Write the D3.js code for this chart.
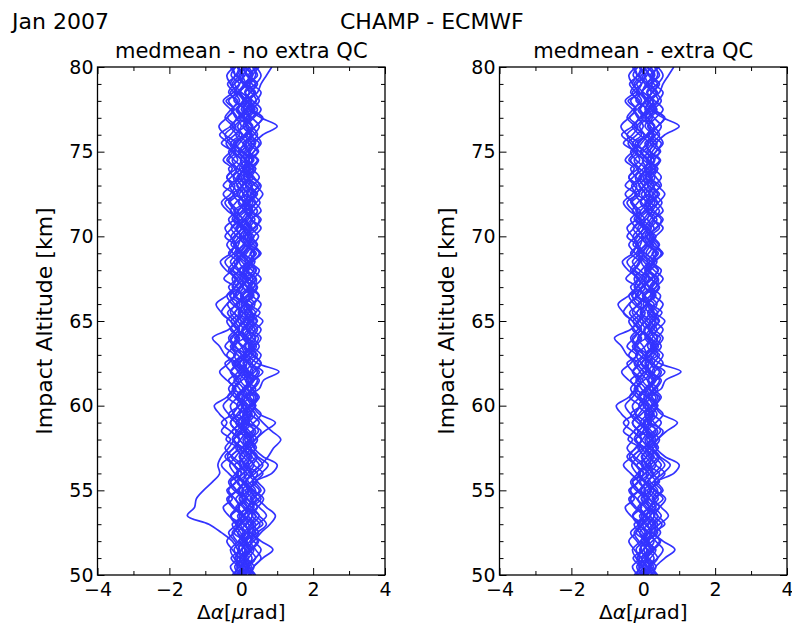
<!DOCTYPE html>
<html><head><meta charset="utf-8">
<script src="https://cdn.jsdelivr.net/npm/d3@7"></script>
<style>
html,body{margin:0;padding:0;background:#fff;}
svg{display:block;font-family:"DejaVu Sans",sans-serif;}
</style></head>
<body>
<script>
// Impact altitude levels [km] (50 .. 80 km, 0.5 km step)
const altitudes = [50,50.5,51,51.5,52,52.5,53,53.5,54,54.5,55,55.5,56,56.5,57,57.5,58,58.5,59,59.5,
 60,60.5,61,61.5,62,62.5,63,63.5,64,64.5,65,65.5,66,66.5,67,67.5,68,68.5,69,69.5,
 70,70.5,71,71.5,72,72.5,73,73.5,74,74.5,75,75.5,76,76.5,77,77.5,78,78.5,79,79.5,80];

// Bending angle differences [µrad] per profile, from 50 km upward
const prof01 = [0.05,0.12,-0.05,0.20,0.08,-0.10,0.15,0.30,0.10,-0.05, 0.18,0.02,-0.15,0.10,0.25,0.05,-0.20,0.00,0.22,0.10, -0.12,0.05,0.28,0.12,-0.08,0.15,0.02,-0.25,0.08,0.20, 0.00,-0.18,0.10,0.25,0.05,-0.10,0.12,0.30,0.05,-0.15, 0.08,0.22,-0.05,-0.20,0.10,0.18,0.00,-0.12,0.15,0.32, 0.05,-0.22,0.10,0.20,-0.05,0.12,0.28,0.00,-0.18,0.10, 0.15];
const prof02 = [0.25,0.35,0.60,0.88,0.55,0.30,0.40,0.20,0.45,0.62, 0.35,0.15,0.30,0.50,0.28,0.10,0.38,0.55,0.20,0.05, 0.30,0.45,0.18,0.35,0.60,0.25,0.08,0.32,0.48,0.15, 0.28,0.52,0.20,0.05,0.35,0.42,0.18,0.30,0.55,0.25, 0.10,0.38,0.50,0.22,0.05,0.30,0.45,0.15,0.35,0.20, 0.48,0.30,0.10,0.40,0.58,0.25,0.12,0.38,0.22,0.45, 0.30];
const prof03 = [-0.20,-0.10,-0.28,-0.05,-0.18,-0.35,-0.12,0.00,-0.25,-0.40, -0.15,-0.30,-0.08,-0.22,-0.45,-0.20,-0.05,-0.30,-0.55,-0.25, -0.10,-0.38,-0.20,-0.02,-0.28,-0.45,-0.15,-0.30,-0.08,-0.25, -0.40,-0.18,-0.05,-0.32,-0.20,-0.48,-0.25,-0.10,-0.35,-0.15, -0.30,-0.45,-0.20,-0.08,-0.35,-0.22,-0.50,-0.28,-0.12,-0.40, -0.25,-0.55,-0.30,-0.15,-0.38,-0.20,-0.42,-0.10,-0.30,-0.18, -0.25];
const prof04 = [0.10,0.22,0.05,0.30,0.15,0.40,0.20,0.08,0.35,0.18, 0.02,0.28,0.45,0.15,0.30,0.05,0.22,0.40,0.12,0.25, 0.38,0.15,0.50,0.62,1.05,0.45,0.20,0.35,0.10,0.28, 0.42,0.18,0.30,0.05,0.25,0.40,0.15,0.32,0.08,0.22, 0.35,0.12,0.28,0.45,0.20,0.05,0.30,0.18,0.40,0.10, 0.25,0.38,0.15,0.30,0.05,0.20,0.42,0.28,0.10,0.32, 0.20];
const prof05 = [-0.05,0.08,-0.15,0.00,0.12,-0.10,-0.25,0.05,-0.08,0.15, -0.12,-0.30,0.02,-0.18,0.10,-0.05,-0.22,0.08,-0.15,-0.35, -0.05,0.10,-0.20,-0.08,-0.30,-0.15,-0.45,-0.60,-0.80,-0.35, -0.10,0.05,-0.18,-0.30,-0.05,0.08,-0.22,-0.12,0.02,-0.28, -0.15,0.00,-0.25,-0.08,0.10,-0.18,-0.32,-0.05,0.05,-0.20, -0.35,-0.12,0.02,-0.25,-0.10,0.08,-0.15,-0.30,-0.05,0.05, -0.10];
const prof06 = [0.15,0.00,0.20,0.35,0.10,0.25,0.05,-0.10,0.18,0.30, 0.12,0.45,0.25,0.08,-0.05,0.20,0.35,0.15,0.00,0.22, 0.40,0.18,0.05,0.28,0.12,-0.05,0.20,0.35,0.18,0.02, 0.25,0.40,0.15,-0.02,0.20,0.32,0.10,-0.05,0.15,0.28, 0.05,0.20,0.38,0.12,-0.08,0.15,0.30,0.08,0.22,0.45, 0.18,0.35,0.60,1.00,0.55,0.20,0.05,0.25,0.40,0.15, 0.05];
const prof07 = [0.30,0.15,0.40,0.55,0.35,0.20,0.45,0.70,0.50,0.30, 0.55,0.40,0.85,1.00,0.60,0.35,0.25,0.48,0.30,0.15, 0.40,0.25,0.10,0.35,0.50,0.30,0.45,0.20,0.38,0.55, 0.30,0.12,0.35,0.48,0.25,0.40,0.15,0.30,0.52,0.35, 0.20,0.45,0.30,0.55,0.38,0.15,0.32,0.50,0.28,0.10, 0.35,0.50,0.25,0.40,0.60,0.30,0.18,0.45,0.55,0.70, 0.85];
const prof08 = [-0.10,0.05,-0.05,-0.20,0.00,0.10,-0.15,-0.30,-0.10,0.05, -0.20,-0.35,-0.15,0.00,-0.25,-0.45,-0.30,-0.55,-0.40,-0.60, -0.75,-0.40,-0.20,-0.35,-0.10,-0.25,0.00,-0.15,-0.30,-0.05, -0.20,-0.38,-0.10,0.05,-0.25,-0.12,-0.35,-0.20,0.00,-0.15, -0.28,-0.08,0.05,-0.18,-0.32,-0.10,-0.25,-0.40,-0.15,0.00, -0.20,-0.35,-0.60,-0.30,-0.12,-0.25,-0.05,-0.20,-0.38,-0.15, -0.05];
const prof09 = [0.00,-0.12,0.10,0.25,-0.05,0.15,0.35,0.05,-0.15,0.12, 0.30,0.08,-0.10,0.20,0.40,0.15,-0.05,-0.25,0.05,0.28, 0.10,-0.15,0.05,0.30,0.15,-0.05,0.22,0.42,0.20,-0.10, 0.08,0.30,0.12,-0.20,0.00,0.25,0.40,0.10,-0.12,0.05, 0.28,0.10,-0.18,0.02,0.20,0.45,0.15,-0.08,0.10,0.30, 0.05,-0.15,0.18,0.32,0.10,-0.10,0.05,0.25,0.45,0.20, 0.00];
const prof10 = [0.20,0.35,0.15,0.02,0.25,0.48,0.30,0.10,0.28,0.55, 0.30,0.12,0.38,0.60,0.40,0.18,0.05,0.30,0.50,0.25, 0.05,0.22,0.40,0.15,0.30,0.55,0.35,0.12,0.25,0.40, 0.60,0.30,0.10,0.28,0.45,0.20,0.05,0.32,0.50,0.25, 0.12,0.35,0.55,0.30,0.15,0.40,0.25,0.05,0.30,0.48, 0.20,0.05,0.30,0.15,0.35,0.55,0.32,0.10,0.25,0.40, 0.35];
const prof11 = [-0.15,-0.30,-0.10,-0.25,-0.40,-0.20,-0.05,-0.35,-0.50,-0.25, -0.40,-0.15,-0.35,-0.55,-0.30,-0.10,-0.42,-0.25,-0.08,-0.35, -0.50,-0.30,-0.15,-0.40,-0.60,-0.35,-0.20,-0.45,-0.25,-0.10, -0.30,-0.55,-0.40,-0.20,-0.35,-0.15,-0.42,-0.58,-0.30,-0.20, -0.45,-0.25,-0.10,-0.38,-0.55,-0.30,-0.18,-0.40,-0.25,-0.50, -0.30,-0.15,-0.45,-0.62,-0.40,-0.20,-0.35,-0.15,-0.30,-0.40, -0.20];
const prof12 = [0.08,0.20,0.40,0.22,0.05,0.15,0.30,0.50,0.28,0.10, 0.22,0.05,0.18,0.35,0.15,0.42,0.25,0.08,0.20,0.38, 0.20,0.02,0.15,0.35,0.22,0.08,0.40,0.25,0.05,0.18, 0.35,0.15,0.00,0.20,0.42,0.22,0.05,0.18,0.35,0.10, -0.05,0.15,0.30,0.08,0.25,0.40,0.15,0.00,0.22,0.10, -0.08,0.15,0.30,0.12,0.25,0.05,0.20,0.40,0.15,0.25, 0.40];
const prof13 = [-0.25,-0.05,0.10,-0.10,0.05,-0.20,0.00,0.20,0.05,-0.15, 0.05,-0.08,0.15,-0.05,-0.28,0.00,0.18,-0.10,-0.30,-0.05, 0.15,-0.08,-0.25,0.02,0.20,-0.05,-0.20,0.05,0.18,-0.12, -0.28,0.00,0.12,-0.15,-0.05,0.15,-0.10,-0.30,-0.08,0.10, -0.12,-0.28,0.00,0.15,-0.05,-0.22,0.05,0.20,-0.10,-0.25, 0.00,0.15,-0.10,-0.30,-0.05,0.12,-0.20,-0.05,0.10,-0.15, -0.30];
const prof14 = [0.35,0.20,0.05,0.25,0.45,0.30,0.60,0.40,0.20,0.35, 0.50,0.30,0.55,0.75,0.45,0.25,0.40,0.65,0.95,0.50, 0.30,0.15,0.35,0.50,0.25,0.40,0.55,0.30,0.15,0.38, 0.20,0.40,0.55,0.30,0.18,0.35,0.50,0.25,0.42,0.20, 0.35,0.55,0.28,0.15,0.40,0.25,0.50,0.35,0.20,0.30, 0.45,0.20,0.35,0.50,0.30,0.15,0.40,0.55,0.30,0.20, 0.45];
const prof15 = [-0.05,-0.18,0.00,0.10,-0.12,-0.25,-0.05,0.08,-0.20,-0.35, -0.10,0.05,-0.18,-0.32,-0.15,0.00,-0.25,-0.12,0.05,-0.20, -0.30,-0.10,0.05,-0.15,-0.28,-0.05,0.10,-0.20,-0.35,-0.15, 0.00,-0.22,-0.38,-0.12,0.05,-0.18,-0.30,-0.08,-0.22,-0.40, -0.20,0.02,-0.12,-0.28,-0.45,-0.15,0.00,-0.20,-0.35,-0.10, -0.25,-0.42,-0.18,0.00,-0.15,-0.30,-0.50,-0.22,-0.05,-0.28, -0.15];
const prof16 = [0.12,0.28,0.10,-0.08,0.05,0.22,0.10,-0.05,0.15,0.05, -0.10,0.10,0.28,0.12,-0.02,0.15,0.30,0.10,-0.08,0.12, 0.25,0.40,0.18,-0.02,0.10,0.28,0.12,0.00,-0.15,0.05, 0.18,-0.05,0.08,0.30,0.15,-0.02,0.10,0.25,0.38,0.15, 0.00,-0.15,0.08,0.25,0.10,-0.05,0.18,0.32,0.12,-0.02, 0.15,0.28,0.05,-0.10,0.12,0.30,0.15,-0.02,0.08,0.28, 0.12];
const prof17 = [0.00,0.15,0.30,0.12,-0.05,0.08,0.25,0.40,0.18,0.02, 0.20,0.35,0.15,-0.05,0.10,0.28,0.45,0.22,0.05,0.18, 0.00,0.12,0.30,0.45,0.20,0.05,0.18,0.38,0.55,0.30, 0.10,-0.08,0.12,0.28,0.05,0.20,0.42,0.22,0.00,0.15, 0.30,0.08,-0.10,0.12,0.32,0.18,0.02,0.25,0.40,0.15, -0.05,0.10,0.25,0.05,0.20,0.38,0.12,-0.05,0.18,0.30, 0.10];
const prof18 = [-0.15,-0.02,-0.20,-0.30,-0.08,0.05,-0.12,-0.28,-0.05,-0.18, -0.35,-0.15,0.00,-0.20,-0.38,-0.22,-0.05,-0.15,-0.30,-0.12, 0.02,-0.18,-0.35,-0.15,0.00,-0.22,-0.40,-0.20,-0.05,-0.30, -0.15,-0.02,-0.25,-0.40,-0.18,-0.05,-0.28,-0.45,-0.20,-0.08, -0.02,-0.20,-0.35,-0.15,-0.30,-0.50,-0.25,-0.05,-0.18,-0.35, -0.15,-0.30,-0.05,-0.22,-0.45,-0.28,-0.10,-0.35,-0.20,0.00, -0.12];
const prof19 = [0.05,0.20,0.10,0.30,0.48,0.25,0.12,0.32,0.20,0.42, 0.22,0.38,0.60,0.35,0.20,0.05,0.25,0.12,0.35,0.55, 0.35,0.50,0.28,0.12,0.32,0.20,0.05,0.25,0.40,0.22, 0.45,0.25,0.12,0.35,0.18,0.02,0.20,0.38,0.25,0.45, 0.25,0.05,0.20,0.35,0.52,0.30,0.12,0.25,0.05,0.20, 0.35,0.55,0.40,0.20,0.05,0.28,0.50,0.35,0.15,0.05, 0.25];
const prof20 = [0.10,-0.05,-0.18,0.02,0.15,-0.02,-0.15,0.05,0.18,-0.05, 0.08,-0.12,0.05,0.22,0.05,-0.15,-0.02,0.12,-0.05,-0.22, -0.08,0.10,-0.05,-0.20,0.05,0.15,-0.10,-0.25,-0.12,0.05, -0.10,-0.30,-0.15,0.02,-0.12,-0.25,-0.05,0.12,-0.05,-0.20, -0.05,0.10,-0.12,-0.30,-0.15,0.05,-0.10,-0.22,0.00,0.15, -0.10,-0.28,-0.45,-0.20,0.00,-0.15,0.05,-0.12,-0.25,-0.05, 0.08];
const prof21 = [0.25,0.10,-0.05,0.15,0.30,0.15,-0.02,0.18,0.35,0.15, -0.05,0.12,0.25,0.05,0.22,0.38,0.18,0.00,0.15,0.30, 0.12,-0.10,0.08,0.25,0.02,-0.15,0.10,0.28,0.10,-0.08, -0.30,-0.55,-0.70,-0.40,-0.15,0.05,0.20,0.02,-0.15,0.08, 0.18,0.00,-0.20,0.05,0.22,0.08,-0.12,0.10,0.25,0.02, -0.20,-0.05,0.15,0.30,0.12,-0.08,0.10,0.22,0.05,-0.10, 0.05];
const prof22 = [0.40,0.22,0.10,0.28,0.15,0.35,0.52,0.30,0.45,0.25, 0.40,0.20,0.08,0.30,0.45,0.25,0.10,0.35,0.20,0.05, 0.22,0.35,0.15,0.28,0.45,0.20,0.30,0.50,0.32,0.15, 0.05,0.22,0.38,0.20,0.35,0.55,0.30,0.12,0.28,0.42, 0.20,0.30,0.12,0.25,0.42,0.60,0.38,0.20,0.05,0.22, 0.10,0.25,0.45,0.30,0.15,0.35,0.25,0.12,0.40,0.55, 0.40];
// Profiles removed by the extra quality control (only in the left panel)
const rejected01 = [0.05,0.15,0.00,-0.10,-0.25,-0.55,-0.90,-1.50,-1.30,-1.25, -1.05,-0.80,-0.60,-0.65,-0.55,-0.35,-0.20,-0.05,0.10,-0.05, 0.05,-0.15,0.10,0.20,-0.05,-0.20,0.08,0.25,0.05,-0.10, 0.12,0.28,0.05,-0.15,0.00,0.18,-0.05,-0.20,0.10,0.22, 0.02,-0.12,0.15,0.30,0.08,-0.10,0.05,0.20,-0.05,0.10, 0.25,0.05,-0.15,0.10,0.22,0.00,0.15,-0.08,0.12,0.30, 0.05];
const rejected02 = [0.20,0.35,0.55,0.40,0.25,0.45,0.70,0.50,0.30,0.48, 0.65,0.45,0.30,0.55,0.75,0.90,1.10,0.85,0.60,0.40, 0.25,0.45,0.30,0.15,0.38,0.55,0.30,0.10,0.28,0.45, 0.25,0.08,0.30,0.50,0.28,0.12,0.35,0.20,0.05,0.30, 0.48,0.25,0.10,0.32,0.20,0.40,0.55,0.28,0.12,0.35, 0.20,0.40,0.25,0.05,0.30,0.45,0.22,0.38,0.15,0.30, 0.50];
const rejected03 = [-0.10,0.05,0.20,0.10,0.35,0.55,0.80,0.95,0.70,0.45, 0.25,0.10,0.30,0.15,-0.05,0.12,0.28,0.05,-0.15,0.08, 0.20,-0.05,0.12,0.30,0.08,-0.10,0.15,0.05,-0.18,0.10, 0.25,0.05,-0.12,0.15,0.30,0.10,-0.08,0.18,0.02,-0.15, 0.10,0.25,0.05,-0.10,0.20,0.35,0.15,-0.05,0.08,0.22, 0.00,-0.20,0.10,0.28,0.05,-0.12,0.18,0.35,0.10,-0.05, 0.15];

const acceptedProfiles = [prof01,prof02,prof03,prof04,prof05,prof06,prof07,prof08,prof09,prof10,prof11,
  prof12,prof13,prof14,prof15,prof16,prof17,prof18,prof19,prof20,prof21,prof22];
const rejectedProfiles = [rejected01,rejected02,rejected03];

const xTicksMajor = [-4,-2,0,2,4];
const xTicksMinor = [-3,-1,1,3];
const yTicksMajor = [50,55,60,65,70,75,80];
const yTicksMinor = [51,52,53,54,56,57,58,59,61,62,63,64,66,67,68,69,71,72,73,74,76,77,78,79];

const panelTitles = ["medmean - no extra QC","medmean - extra QC"];
const figTitleLeft = "Jan 2007";
const figTitle = "CHAMP - ECMWF";

const W = 792, H = 627;
const svg = d3.select("body").append("svg").attr("width",W).attr("height",H);

svg.append("text").attr("x",12).attr("y",29).attr("font-size",22).text(figTitleLeft);
svg.append("text").attr("x",340).attr("y",29).attr("font-size",22).text(figTitle);

const panels = [
  {x0:97.5, title:panelTitles[0], profiles:acceptedProfiles.concat(rejectedProfiles)},
  {x0:499.5, title:panelTitles[1], profiles:acceptedProfiles}
];
const pw = 287.5, y0 = 67, y1 = 575;
const fmt = d => d < 0 ? "\u2212" + Math.abs(d) : String(d);

panels.forEach(p => {
  const g = svg.append("g").attr("transform",`translate(${p.x0},0)`);
  const x = d3.scaleLinear().domain([-4,4]).range([0,pw]);
  const y = d3.scaleLinear().domain([50,80]).range([y1,y0]);

  const clipId = "clip" + Math.round(p.x0);
  g.append("clipPath").attr("id",clipId).append("rect").attr("x",0).attr("y",y0).attr("width",pw).attr("height",y1-y0);

  const line = d3.line().x(d => x(d[0])).y(d => y(d[1])).curve(d3.curveCatmullRom.alpha(0.5));
  g.append("g").attr("clip-path",`url(#${clipId})`)
    .selectAll("path").data(p.profiles).join("path")
    .attr("d", prof => line(prof.map((v,i) => [v, altitudes[i]])))
    .attr("fill","none").attr("stroke","#3333ff").attr("stroke-width",1.7)
    .attr("stroke-linejoin","round");

  // axes: major (labelled) and minor ticks, pointing inward
  const mk = (axisFn, scale, vals, size, labels, tf, pad) => {
    const a = axisFn(scale).tickValues(vals).tickSizeInner(-size).tickSizeOuter(0).tickPadding(pad);
    if (labels) a.tickFormat(fmt); else a.tickFormat("");
    const ag = g.append("g").attr("transform",tf).call(a);
    ag.select(".domain").remove();
    ag.selectAll("line").attr("stroke","#000").attr("stroke-width",1);
    ag.selectAll("text").attr("font-size",19).attr("fill","#000").attr("font-family","DejaVu Sans");
    return ag;
  };
  mk(d3.axisBottom, x, xTicksMajor, 7, true, `translate(0,${y1})`, 8);
  mk(d3.axisBottom, x, xTicksMinor, 4, false, `translate(0,${y1})`, 8);
  mk(d3.axisTop, x, xTicksMajor, 7, false, `translate(0,${y0})`, 3);
  mk(d3.axisTop, x, xTicksMinor, 4, false, `translate(0,${y0})`, 3);
  mk(d3.axisLeft, y, yTicksMajor, 7, true, `translate(0,0)`, 4);
  mk(d3.axisLeft, y, yTicksMinor, 4, false, `translate(0,0)`, 4);
  mk(d3.axisRight, y, yTicksMajor, 7, false, `translate(${pw},0)`, 3);
  mk(d3.axisRight, y, yTicksMinor, 4, false, `translate(${pw},0)`, 3);

  g.append("rect").attr("x",0).attr("y",y0).attr("width",pw).attr("height",y1-y0)
    .attr("fill","none").attr("stroke","#000").attr("stroke-width",1.3);

  g.append("text").attr("x",pw/2).attr("y",y0-9).attr("text-anchor","middle").attr("font-size",21).text(p.title);

  const xl = g.append("text").attr("x",pw/2).attr("y",619).attr("text-anchor","middle").attr("font-size",20);
  xl.append("tspan").text("\u0394");
  xl.append("tspan").attr("font-style","italic").text("\u03b1");
  xl.append("tspan").text("[");
  xl.append("tspan").attr("font-style","italic").text("\u03bc");
  xl.append("tspan").text("rad]");

  g.append("text").attr("transform",`translate(-46,${(y0+y1)/2}) rotate(-90)`)
    .attr("text-anchor","middle").attr("font-size",22).text("Impact Altitude [km]");
});
</script>
</body></html>
